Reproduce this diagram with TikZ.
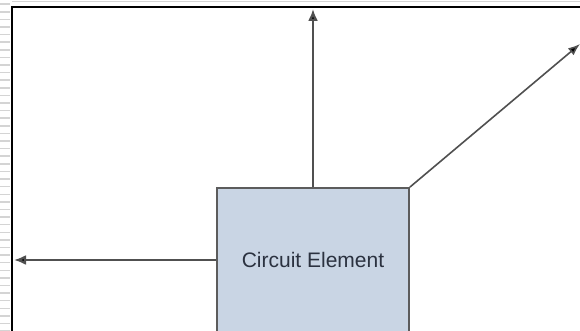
\documentclass[tikz,border=0pt]{standalone}
\usepackage{fontspec}
\setmainfont{Liberation Sans}
\usetikzlibrary{arrows.meta}
\definecolor{boxfill}{HTML}{C9D5E4}
\definecolor{boxline}{HTML}{5C5C5C}
\definecolor{txtcol}{HTML}{2B3240}
\definecolor{arrline}{HTML}{505050}
\definecolor{stripe}{HTML}{D4D4D4}
\tikzset{
  elem/.style={draw=boxline, fill=boxfill, line width=1.8pt, minimum width=192pt, minimum height=144pt, inner sep=0pt, text=txtcol, font=\fontsize{21}{25}\selectfont},
  conn/.style={draw=arrline, line width=2.2pt, -{Latex[length=12pt,width=10pt,fill=black]}},
  thinconn/.style={draw=arrline, line width=1.6pt, -{Latex[length=12pt,width=9pt,fill=black]}},
}
\begin{document}
\begin{tikzpicture}[x=1pt,y=-1pt]
\clip (0,0) rectangle (580,331);
\useasboundingbox (0,0) rectangle (580,331);
\fill[white] (0,0) rectangle (580,331);
% left stripes
\foreach \k in {0,...,43} {
  \fill[stripe] (0,{3.5+7.6*\k}) rectangle (10,{5+7.6*\k});
}
% light top line
\draw[stripe, line width=1pt] (12,2) -- (580,2);
% frame
\draw[black, line width=2.2pt] (12,331) -- (12,7) -- (580,7);
% box
\node[elem] (ce) at (313,260) {Circuit Element};
\coordinate (upend) at (313,9);
\coordinate (leftend) at (14,260);
\coordinate (diagend) at (580,44);
\draw[conn] (ce.north) -- (upend);
\draw[conn] (ce.west) -- (leftend);
\draw[thinconn] (ce.north east) -- (diagend);
\end{tikzpicture}
\end{document}
